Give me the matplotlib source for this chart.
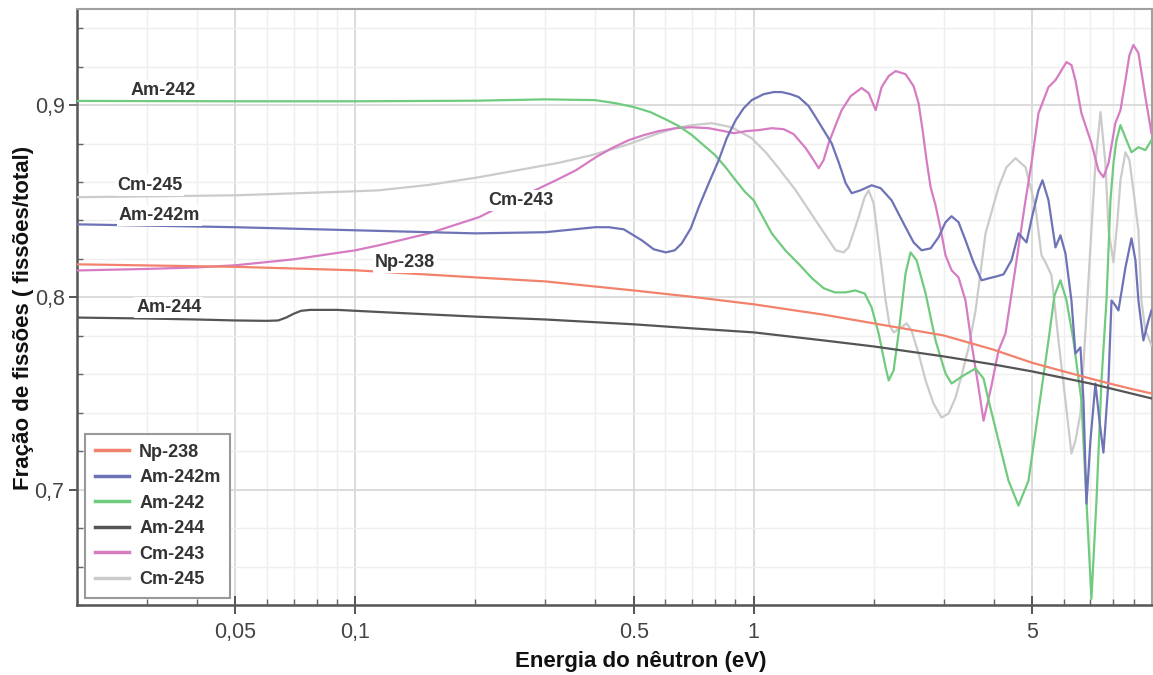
import matplotlib
matplotlib.use("Agg")
import matplotlib.pyplot as plt
from matplotlib.ticker import FixedLocator, FixedFormatter, LogLocator, MultipleLocator, NullFormatter

plt.rcParams['font.family'] = ['Liberation Sans', 'DejaVu Sans']

# ---- data: neutron energy (eV) and fission fraction ----
np238_e = [0.02, 0.05, 0.1, 0.2, 0.3, 0.5, 0.7, 1.0, 1.5, 2.0, 3.0, 4.0, 5.0, 6.0, 7.0, 8.0, 9.0, 10.0]
np238_v = [0.8172, 0.8159, 0.8141, 0.8104, 0.8083, 0.8036, 0.8003, 0.7964, 0.791, 0.7865, 0.7802,
           0.7728, 0.766, 0.7615, 0.7578, 0.7547, 0.7521, 0.750]

am244_e = [0.02, 0.03, 0.04, 0.05, 0.06, 0.064, 0.067, 0.070, 0.073, 0.077, 0.09, 0.12, 0.2, 0.3,
           0.5, 0.7, 1.0, 1.5, 2.0, 3.0, 4.0, 5.0, 7.0, 10.0]
am244_v = [0.7895, 0.789, 0.7885, 0.788, 0.7878, 0.788, 0.7895, 0.7915, 0.793, 0.7935, 0.7935, 0.7922,
           0.790, 0.7885, 0.786, 0.7839, 0.7818, 0.7776, 0.7745, 0.7693, 0.7651, 0.7615, 0.7552, 0.7474]

am242_e = [0.02, 0.05, 0.1, 0.2, 0.3, 0.4, 0.45, 0.5, 0.55, 0.6, 0.65, 0.7, 0.75, 0.8, 0.85, 0.9, 0.95,
           1.0, 1.11, 1.2, 1.3, 1.4, 1.5, 1.6, 1.7, 1.8, 1.9, 1.977, 2.059, 2.144, 2.182, 2.245, 2.311,
           2.406, 2.476, 2.564, 2.701, 2.861, 3.031, 3.139, 3.364, 3.606, 3.776, 3.888, 4.118, 4.362,
           4.622, 4.897, 5.188, 5.497, 5.69, 5.891, 6.1, 6.35, 6.65, 6.846, 7.046, 7.254, 7.468, 7.686,
           7.865, 8.003, 8.143, 8.333, 8.627, 8.88, 9.245, 9.625, 9.97]
am242_v = [0.9022, 0.902, 0.902, 0.9023, 0.903, 0.9026, 0.901, 0.899, 0.8964, 0.8927, 0.889, 0.8844,
           0.879, 0.874, 0.8677, 0.861, 0.855, 0.8505, 0.8333, 0.8245, 0.8172, 0.81, 0.8047, 0.8026,
           0.8026, 0.8036, 0.802, 0.7948, 0.7813, 0.7635, 0.7568, 0.762, 0.7813, 0.8125, 0.8234, 0.8193,
           0.8021, 0.7776, 0.7604, 0.7552, 0.7594, 0.763, 0.7578, 0.7464, 0.7255, 0.7047, 0.6917,
           0.7047, 0.7411, 0.7776, 0.801, 0.8089, 0.7984, 0.7776, 0.7464, 0.6943, 0.6432, 0.6943,
           0.7568, 0.7984, 0.8505, 0.8698, 0.8818, 0.8896, 0.8818, 0.8755, 0.8781, 0.8766, 0.8818]

am242m_e = [0.02, 0.05, 0.1, 0.2, 0.3, 0.4, 0.4327, 0.4719, 0.5236, 0.5612, 0.6016, 0.6335, 0.6597,
            0.695, 0.7278, 0.7711, 0.817, 0.8557, 0.9012, 0.9439, 0.9885, 1.0595, 1.1225, 1.175, 1.238,
            1.297, 1.374, 1.43, 1.498, 1.569, 1.634, 1.702, 1.762, 1.855, 1.977, 2.083, 2.219, 2.406,
            2.52, 2.639, 2.781, 2.912, 3.031, 3.139, 3.268, 3.402, 3.564, 3.733, 3.888, 4.07, 4.239,
            4.439, 4.622, 4.841, 5.01, 5.188, 5.309, 5.497, 5.723, 5.891, 6.063, 6.277, 6.423, 6.613,
            6.729, 6.846, 7.005, 7.211, 7.38, 7.552, 7.777, 7.913, 8.09, 8.236, 8.578, 8.88, 9.087,
            9.245, 9.515, 9.795, 9.97]
am242m_v = [0.838, 0.8365, 0.8349, 0.8333, 0.8339, 0.8365, 0.8365, 0.8354, 0.8297, 0.825, 0.8234,
            0.8245, 0.8281, 0.8359, 0.8469, 0.8594, 0.8714, 0.8828, 0.8922, 0.8984, 0.9026, 0.9057,
            0.9068, 0.9068, 0.9057, 0.9042, 0.8995, 0.8938, 0.887, 0.8802, 0.8703, 0.8594, 0.8542,
            0.8557, 0.8583, 0.8568, 0.8505, 0.8365, 0.8286, 0.8245, 0.8255, 0.8313, 0.8391, 0.8422,
            0.8391, 0.8297, 0.8182, 0.8089, 0.8099, 0.8109, 0.812, 0.8193, 0.8333, 0.8286, 0.8427,
            0.8557, 0.8609, 0.8505, 0.826, 0.8323, 0.8229, 0.7984, 0.7708, 0.774, 0.7464, 0.6927,
            0.7255, 0.7552, 0.7359, 0.7193, 0.7568, 0.7984, 0.7958, 0.7932, 0.8156, 0.8307, 0.8193,
            0.7984, 0.7776, 0.788, 0.7932]

cm243_e = [0.02, 0.03, 0.04, 0.05, 0.07, 0.1, 0.1146, 0.153, 0.2042, 0.2293, 0.2726, 0.3187, 0.3577,
           0.4015, 0.4402, 0.4857, 0.5297, 0.5776, 0.6373, 0.6991, 0.7711, 0.8409, 0.8909, 0.9603,
           1.029, 1.11, 1.189, 1.26, 1.351, 1.414, 1.456, 1.498, 1.542, 1.606, 1.663, 1.752, 1.866,
           1.943, 2.024, 2.095, 2.182, 2.271, 2.406, 2.52, 2.594, 2.655, 2.716, 2.781, 2.861, 2.945,
           3.031, 3.139, 3.268, 3.402, 3.524, 3.669, 3.776, 3.955, 4.118, 4.288, 4.543, 4.813, 4.983,
           5.188, 5.497, 5.723, 6.1, 6.277, 6.423, 6.65, 7.046, 7.337, 7.552, 7.777, 8.09, 8.333,
           8.578, 8.776, 8.98, 9.245, 9.625, 9.97]
cm243_v = [0.814, 0.8148, 0.8156, 0.8167, 0.8198, 0.8245, 0.8271, 0.8333, 0.8417, 0.8469, 0.8542,
           0.8609, 0.8661, 0.8729, 0.8776, 0.8818, 0.8844, 0.8865, 0.888, 0.8885, 0.888, 0.8865,
           0.8854, 0.8865, 0.887, 0.888, 0.8875, 0.8849, 0.8776, 0.8714, 0.8672, 0.8714, 0.8802,
           0.8896, 0.8974, 0.9047, 0.9089, 0.9063, 0.8974, 0.9094, 0.9151, 0.9177, 0.9161, 0.9099,
           0.901, 0.887, 0.8714, 0.8573, 0.8479, 0.8359, 0.8219, 0.8141, 0.8104, 0.7984, 0.776,
           0.7531, 0.7359, 0.7542, 0.7724, 0.7813, 0.8156, 0.8505, 0.8698, 0.8958, 0.9094, 0.913,
           0.9224, 0.9208, 0.913, 0.8958, 0.8802, 0.8661, 0.8625, 0.8698, 0.8906, 0.8974, 0.913,
           0.926, 0.9313, 0.9271, 0.9042, 0.8854]

cm245_e = [0.02, 0.05, 0.1, 0.1146, 0.153, 0.2042, 0.2726, 0.324, 0.3924, 0.4775, 0.5776, 0.6373,
           0.6991, 0.7846, 0.8807, 0.9885, 1.072, 1.155, 1.275, 1.43, 1.606, 1.682, 1.73, 1.834, 1.899,
           1.943, 2.0, 2.059, 2.095, 2.144, 2.194, 2.245, 2.351, 2.42, 2.49, 2.594, 2.701, 2.828,
           2.963, 3.085, 3.212, 3.326, 3.465, 3.606, 3.82, 4.118, 4.312, 4.543, 4.813, 5.099, 5.279,
           5.403, 5.593, 5.824, 6.063, 6.277, 6.423, 6.613, 6.808, 7.046, 7.211, 7.425, 7.64, 7.777,
           8.003, 8.19, 8.333, 8.578, 8.776, 8.98, 9.245, 9.406, 9.625, 9.795, 9.97]
cm245_v = [0.8521, 0.8531, 0.8552, 0.8557, 0.8585, 0.8625, 0.8672, 0.870, 0.874, 0.8792, 0.8854,
           0.888, 0.8896, 0.8906, 0.8885, 0.8828, 0.8755, 0.8672, 0.8557, 0.8401, 0.8245, 0.8234,
           0.826, 0.8417, 0.8521, 0.8557, 0.849, 0.8281, 0.8156, 0.7984, 0.7854, 0.7818, 0.7844,
           0.7865, 0.7828, 0.7708, 0.7568, 0.7448, 0.7375, 0.7396, 0.7479, 0.7594, 0.774, 0.7932,
           0.8333, 0.8573, 0.8677, 0.8724, 0.8677, 0.8469, 0.8219, 0.8182, 0.8115, 0.7776, 0.7464,
           0.7188, 0.7255, 0.7396, 0.7828, 0.8349, 0.8698, 0.8964, 0.8698, 0.8349, 0.8182, 0.8401,
           0.8609, 0.8755, 0.8714, 0.8557, 0.8349, 0.7984, 0.7828, 0.7792, 0.775]

series_names = ["Np-238", "Am-242m", "Am-242", "Am-244", "Cm-243", "Cm-245"]
series_colors = ["#f2826c", "#6e72b6", "#70cb7e", "#555555", "#d67cc3", "#cbcbcb"]

x_ticks = [0.05, 0.1, 0.5, 1, 5]
x_tick_labels = ["0,05", "0,1", "0.5", "1", "5"]
y_ticks = [0.7, 0.8, 0.9]
y_tick_labels = ["0,7", "0,8", "0,9"]

# inline curve labels: (text, energy, fraction)
curve_labels = [("Am-242", 0.033, 0.9078), ("Cm-245", 0.0304, 0.8583), ("Am-242m", 0.0322, 0.8427),
                ("Am-244", 0.034, 0.7948), ("Np-238", 0.133, 0.8182), ("Cm-243", 0.261, 0.8505)]

# ---- figure ----
fig = plt.figure(figsize=(11.53, 6.75), dpi=100)
ax = fig.add_axes([77 / 1153, 70 / 675, 1075 / 1153, 596 / 675])

series = [(np238_e, np238_v), (am242m_e, am242m_v), (am242_e, am242_v),
          (am244_e, am244_v), (cm243_e, cm243_v), (cm245_e, cm245_v)]
draw_order = [5, 4, 2, 1, 3, 0]
lines = {}
for rank, i in enumerate(draw_order):
    e, v = series[i]
    ln, = ax.plot(e, v, color=series_colors[i], lw=1.6, label=series_names[i],
                  solid_joinstyle='round', zorder=3 + rank * 0.1)
    lines[i] = ln

ax.set_xscale('log')
ax.set_xlim(0.02, 10)
ax.set_ylim(0.64, 0.95)

ax.xaxis.set_major_locator(FixedLocator(x_ticks))
ax.xaxis.set_major_formatter(FixedFormatter(x_tick_labels))
ax.xaxis.set_minor_locator(LogLocator(base=10, subs=range(2, 10), numticks=20))
ax.xaxis.set_minor_formatter(NullFormatter())
ax.yaxis.set_major_locator(FixedLocator(y_ticks))
ax.yaxis.set_major_formatter(FixedFormatter(y_tick_labels))
ax.yaxis.set_minor_locator(MultipleLocator(0.02))

ax.grid(which='major', color='#d9d9d9', lw=1.3, zorder=0)
ax.grid(which='minor', color='#efefef', lw=1.0, zorder=0)
ax.set_axisbelow(True)

ax.tick_params(axis='x', which='major', direction='inout', length=13, width=1.4, color='#555555',
               labelsize=15.5, labelcolor='#444444', pad=6)
ax.tick_params(axis='x', which='minor', direction='in', length=4, width=1.0, color='#666666')
ax.tick_params(axis='y', which='major', direction='out', length=6, width=1.4, color='#555555',
               labelsize=15.5, labelcolor='#444444', pad=3)
ax.tick_params(axis='y', which='minor', direction='in', length=4, width=1.0, color='#666666')

for side in ('left', 'bottom'):
    ax.spines[side].set_color('#555555')
    ax.spines[side].set_linewidth(1.8)
for side in ('top', 'right'):
    ax.spines[side].set_color('#a0a0a0')
    ax.spines[side].set_linewidth(1.5)

ax.set_xlabel("Energia do nêutron (eV)", fontsize=16, fontweight='bold', color='#111111')
ax.set_ylabel("Fração de fissões ( fissões/total)", fontsize=16, fontweight='bold', color='#111111')
ax.xaxis.label.set_va('center')
ax.xaxis.set_label_coords((641 - 77) / 1075, -(661 - 605) / 596)
ax.yaxis.set_label_coords(-(77 - 34) / 1075, (605 - 318) / 596)

for text, e, v in curve_labels:
    ax.text(e, v, text, fontsize=13, fontweight='bold', color='#333333', ha='center', va='center',
            zorder=6, bbox=dict(boxstyle='square,pad=0.1', fc='white', ec='none'))

handles = [lines[i] for i in range(6)]
leg = ax.legend(handles, series_names, loc='lower left', bbox_to_anchor=(8 / 1075, 7 / 596),
                borderaxespad=0, fancybox=False, framealpha=1, edgecolor='#999999',
                prop={'size': 13, 'weight': 'bold'}, handlelength=1.9, handletextpad=0.55,
                labelspacing=0.47, borderpad=0.55)
leg.get_frame().set_linewidth(1.5)
for t in leg.get_texts():
    t.set_color('#333333')
for lh in leg.get_lines():
    lh.set_linewidth(2.5)
leg.set_zorder(7)

fig.savefig("out.png", dpi=100)
